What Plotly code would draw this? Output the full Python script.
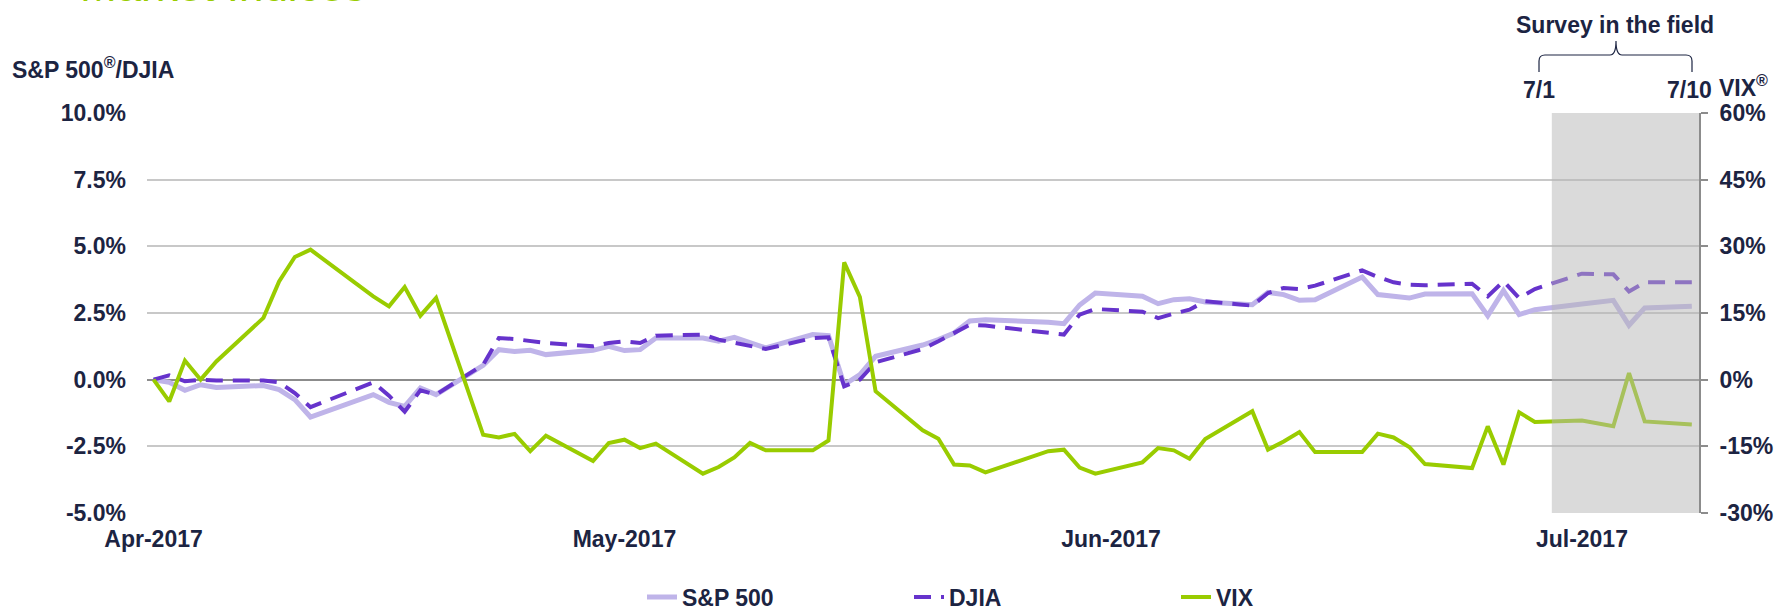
import plotly.graph_objects as go

##### Data #####

dates = [
    "2017-04-03", "2017-04-04", "2017-04-05", "2017-04-06", "2017-04-07",
    "2017-04-10", "2017-04-11", "2017-04-12", "2017-04-13",
    "2017-04-17", "2017-04-18", "2017-04-19", "2017-04-20", "2017-04-21",
    "2017-04-24", "2017-04-25", "2017-04-26", "2017-04-27", "2017-04-28",
    "2017-05-01", "2017-05-02", "2017-05-03", "2017-05-04", "2017-05-05",
    "2017-05-08", "2017-05-09", "2017-05-10", "2017-05-11", "2017-05-12",
    "2017-05-15", "2017-05-16", "2017-05-17", "2017-05-18", "2017-05-19",
    "2017-05-22", "2017-05-23", "2017-05-24", "2017-05-25", "2017-05-26",
    "2017-05-30", "2017-05-31",
    "2017-06-01", "2017-06-02",
    "2017-06-05", "2017-06-06", "2017-06-07", "2017-06-08", "2017-06-09",
    "2017-06-12", "2017-06-13", "2017-06-14", "2017-06-15", "2017-06-16",
    "2017-06-19", "2017-06-20", "2017-06-21", "2017-06-22", "2017-06-23",
    "2017-06-26", "2017-06-27", "2017-06-28", "2017-06-29", "2017-06-30",
    "2017-07-03", "2017-07-05", "2017-07-06", "2017-07-07", "2017-07-10",
]

# % change since 4/3 (left axis)
sp500 = [
    0, -0.1, -0.4, -0.19, -0.29, -0.22, -0.375, -0.75, -1.4,
    -0.56, -0.85, -1.0, -0.31, -0.56, 0.54, 1.125, 1.06, 1.1, 0.94,
    1.1, 1.25, 1.09, 1.125, 1.56, 1.56, 1.44, 1.59, 1.4, 1.19,
    1.69, 1.65, -0.19, 0.19, 0.875, 1.3, 1.5, 1.75, 2.2, 2.25, 2.15, 2.1,
    2.8, 3.25, 3.125, 2.85, 3.0, 3.03, 2.91, 2.81, 3.275, 3.19, 2.975, 3.0,
    3.85, 3.19, 3.125, 3.06, 3.21, 3.225, 2.4, 3.34, 2.44, 2.625,
    2.84, 2.975, 2.04, 2.69, 2.75,
]

djia = [
    0, 0.16, -0.06, 0, -0.03, -0.03, -0.1, -0.5, -1.03,
    -0.1, -0.6, -1.2, -0.4, -0.56, 0.56, 1.56, 1.525, 1.44, 1.375,
    1.25, 1.375, 1.44, 1.375, 1.65, 1.69, 1.5, 1.375, 1.25, 1.15,
    1.56, 1.59, -0.25, 0.0, 0.65, 1.15, 1.44, 1.75, 2.06, 2.03, 1.75, 1.69,
    2.44, 2.65, 2.55, 2.31, 2.475, 2.625, 2.94, 2.775, 3.25, 3.44, 3.4, 3.525,
    4.1, 3.85, 3.65, 3.56, 3.54, 3.6, 3.125, 3.69, 3.06, 3.4,
    3.975, 3.95, 3.31, 3.65, 3.65,
]

# % change since 4/3 (right axis)
vix = [
    0, -4.9, 4.3, 0, 4.1, 13.9, 22.1, 27.6, 29.25,
    18.75, 16.5, 20.85, 14.4, 18.4, -12.4, -13.0, -12.2, -16.1, -12.6,
    -18.3, -14.25, -13.5, -15.4, -14.4, -21.15, -19.65, -17.5, -14.25, -15.9,
    -15.9, -13.7, 26.4, 18.6, -2.6, -11.4, -13.3, -19.1, -19.3, -20.85, -16.1, -15.75,
    -19.8, -21.15, -18.6, -15.4, -15.9, -17.8, -13.35, -7.1, -15.75, -13.9, -11.8, -16.3,
    -16.3, -12.15, -13.0, -15.15, -19.0, -19.9, -10.5, -19.1, -7.35, -9.5,
    -9.2, -10.5, 1.5, -9.4, -10.1,
]

left_ticks = [-5, -2.5, 0, 2.5, 5, 7.5, 10]
right_ticks = [-30, -15, 0, 15, 30, 45, 60]

x_range = ["2017-04-02 14:00", "2017-07-10 11:00"]
survey_start = "2017-07-01 02:00"

##### Layout helpers #####

W, H = 1779, 614
M_L, M_R, M_T, M_B = 147, 80, 113, 101
PW, PH = W - M_L - M_R, H - M_T - M_B

NAVY = "#1c2442"
FONT = "Liberation Sans, Arial, sans-serif"


def px_x(px):
    return (px - M_L) / PW


def px_y(py):
    return (H - M_B - py) / PH


def brace_path(pts):
    # pts: list of (cmd, [(x, y), ...]) in figure pixels
    out = []
    for cmd, xy in pts:
        out.append(cmd + " " + " ".join("%.5f,%.5f" % (px_x(a), px_y(b)) for a, b in xy))
    return " ".join(out)


##### Figure #####

fig = go.Figure()

fig.add_trace(go.Scatter(
    x=dates, y=sp500, name="S&P 500", mode="lines",
    line=dict(color="#bfb4e9", width=5),
))
fig.add_trace(go.Scatter(
    x=dates, y=djia, name="DJIA", mode="lines",
    line=dict(color="#6633cc", width=4, dash="17px,10px"),
))
fig.add_trace(go.Scatter(
    x=dates, y=vix, name="VIX", mode="lines", yaxis="y2",
    line=dict(color="#99cc00", width=4),
))

tickfont = dict(family=FONT, size=23, color=NAVY, weight="bold")

fig.update_layout(
    width=W, height=H,
    margin=dict(l=M_L, r=M_R, t=M_T, b=M_B, autoexpand=False),
    plot_bgcolor="white", paper_bgcolor="white",
    font=dict(family=FONT, color=NAVY),
    showlegend=True,
    legend=dict(
        orientation="h", x=px_x(642), xanchor="left",
        y=px_y(597), yanchor="middle",
        font=dict(family=FONT, size=23, color=NAVY, weight="bold"),
        entrywidth=222, entrywidthmode="pixels",
    ),
    xaxis=dict(
        type="date", range=x_range,
        tick0="2017-04-03", dtick="M1", tickformat="%b-%Y",
        showgrid=False, showline=False, zeroline=False,
        ticks="", tickfont=tickfont, ticklabelstandoff=10,
    ),
    yaxis=dict(
        range=[-5, 10],
        tickvals=left_ticks, ticktext=["%.1f%%" % v for v in left_ticks],
        showgrid=True, gridcolor="#c8c8c8", gridwidth=2,
        zeroline=True, zerolinecolor="#8c8c8c", zerolinewidth=2,
        showline=False, ticks="", tickfont=tickfont, ticklabelstandoff=20,
    ),
    yaxis2=dict(
        overlaying="y", side="right",
        range=[-30, 60],
        tickvals=right_ticks, ticktext=["%d%%" % v for v in right_ticks],
        showgrid=False, zeroline=False,
        showline=True, linecolor="#8c8c8c", linewidth=2,
        ticks="outside", ticklen=7, tickwidth=2, tickcolor="#8c8c8c",
        tickfont=tickfont, ticklabelstandoff=7,
    ),
)

# survey window shading, drawn over the lines like the original
fig.add_shape(
    type="rect", xref="x", yref="paper",
    x0=survey_start, x1=x_range[1], y0=0, y1=1,
    fillcolor="#b5b5b5", opacity=0.5, line=dict(width=0), layer="above",
)

# brace over the survey window
fig.add_shape(
    type="path", xref="paper", yref="paper",
    path=brace_path([
        ("M", [(1539, 72)]),
        ("L", [(1539, 61)]),
        ("Q", [(1539, 55), (1545, 55)]),
        ("L", [(1610, 55)]),
        ("Q", [(1616, 55), (1616, 41)]),
        ("Q", [(1616, 55), (1622, 55)]),
        ("L", [(1686, 55)]),
        ("Q", [(1692, 55), (1692, 61)]),
        ("L", [(1692, 72)]),
    ]),
    line=dict(color=NAVY, width=1.2),
)

bold23 = dict(family=FONT, size=23, color=NAVY, weight="bold")

annotations = [
    dict(text="Market Indices", x=px_x(78), y=px_y(12), xanchor="left", yanchor="bottom",
         font=dict(family=FONT, size=44, color="#99cc00")),
    dict(text="S&P 500<sup>®</sup>/DJIA", x=px_x(10), y=px_y(68), xanchor="left", yanchor="middle",
         font=bold23),
    dict(text="VIX<sup>®</sup>", x=px_x(1717), y=px_y(86), xanchor="left", yanchor="middle",
         font=bold23),
    dict(text="7/1", x=px_x(1539), y=px_y(90), xanchor="center", yanchor="middle", font=bold23),
    dict(text="7/10", x=px_x(1689), y=px_y(90), xanchor="center", yanchor="middle", font=bold23),
    dict(text="Survey in the field", x=px_x(1615), y=px_y(25), xanchor="center", yanchor="middle",
         font=bold23),
]
for a in annotations:
    a.update(xref="paper", yref="paper", showarrow=False)
fig.update_layout(annotations=annotations)

fig.write_html(
    "out.html",
    config={"displayModeBar": False},
    post_script="document.body.style.margin='0';",
)
